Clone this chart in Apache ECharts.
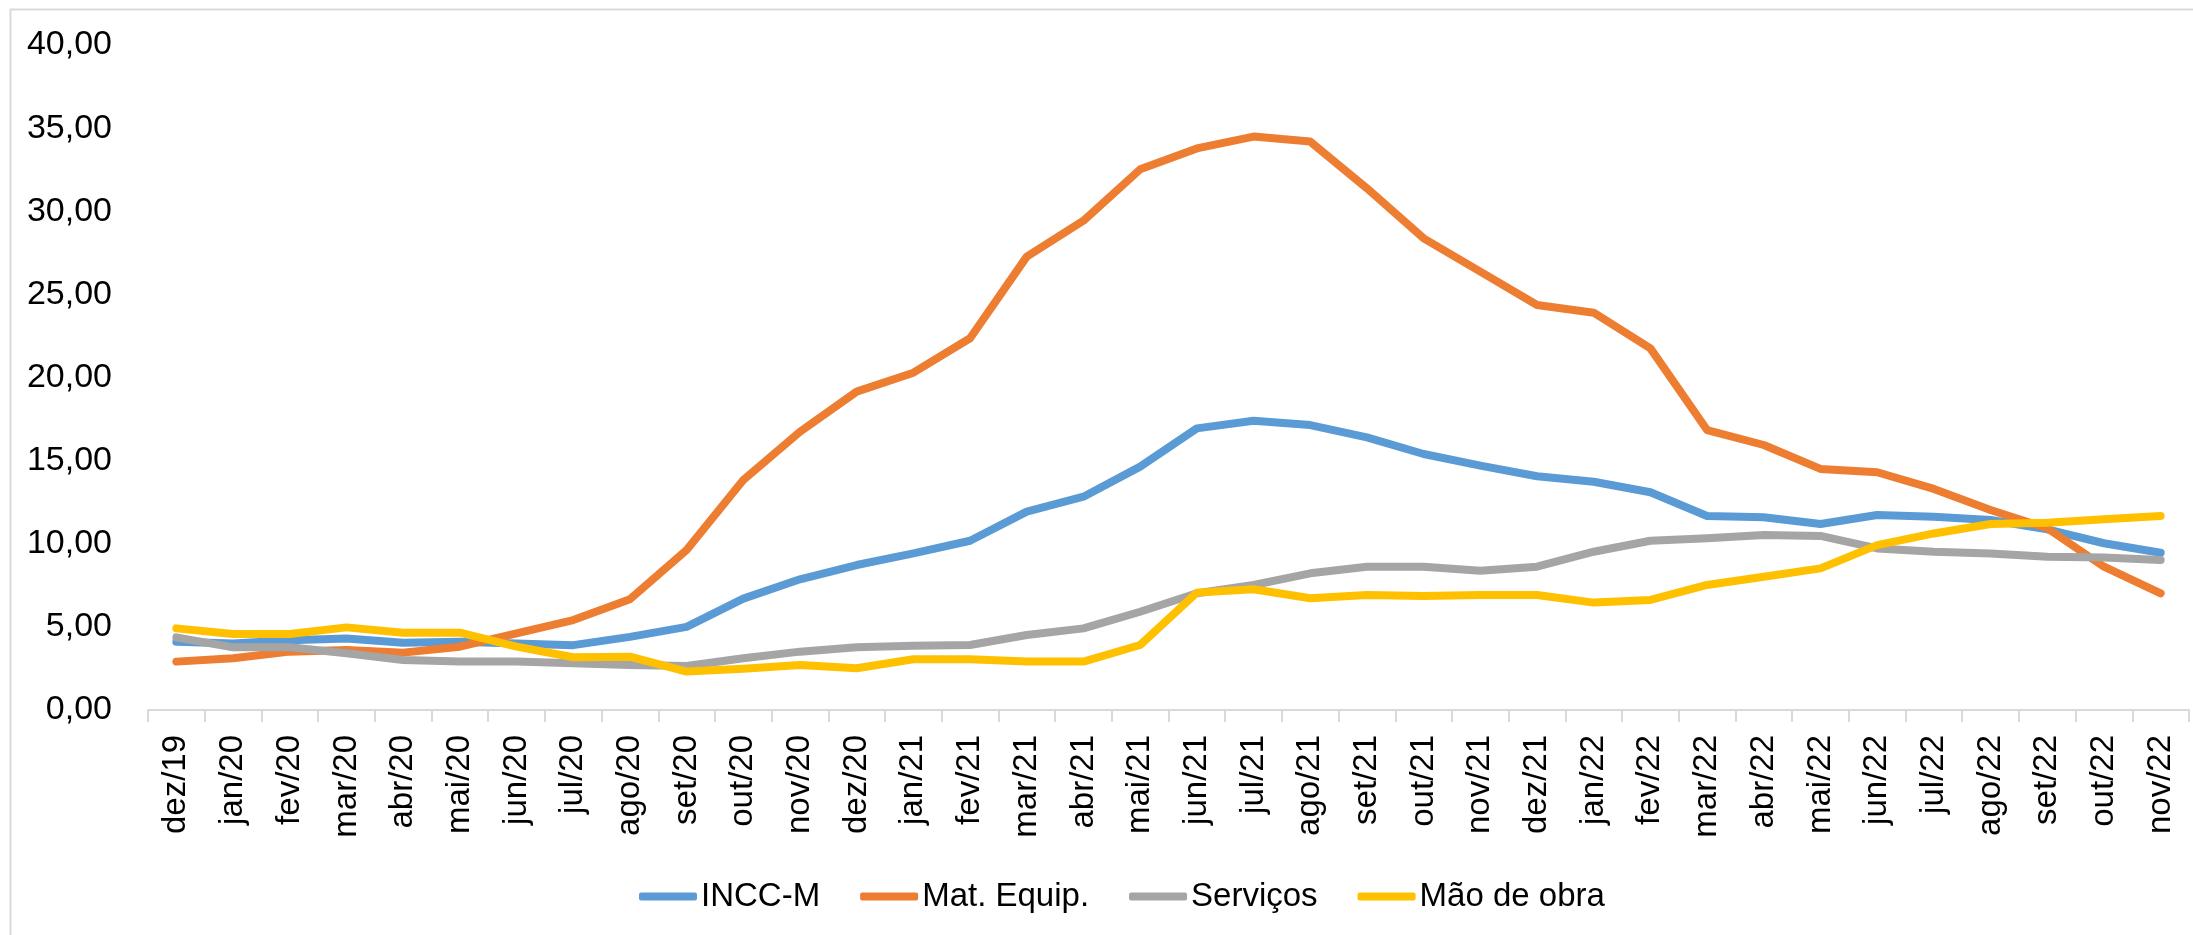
<!DOCTYPE html>
<html>
<head>
<meta charset="utf-8">
<script src="https://cdn.jsdelivr.net/npm/echarts@6/dist/echarts.min.js"></script>
<style>
  html, body { margin: 0; padding: 0; background: #fff; }
  #main { width: 2193px; height: 935px; }
</style>
</head>
<body>
<div id="main"></div>
<script>
// meses
var meses = ['dez/19', 'jan/20', 'fev/20', 'mar/20', 'abr/20', 'mai/20', 'jun/20', 'jul/20', 'ago/20', 'set/20', 'out/20', 'nov/20',
    'dez/20', 'jan/21', 'fev/21', 'mar/21', 'abr/21', 'mai/21', 'jun/21', 'jul/21', 'ago/21', 'set/21', 'out/21', 'nov/21',
    'dez/21', 'jan/22', 'fev/22', 'mar/22', 'abr/22', 'mai/22', 'jun/22', 'jul/22', 'ago/22', 'set/22', 'out/22', 'nov/22'];

var inccM = [4.1, 4.0, 4.2, 4.3, 4.05, 4.1, 4.0, 3.9, 4.4, 5.0, 6.7, 7.86, 8.72, 9.42, 10.18, 11.93, 12.83, 14.64,
    16.94, 17.40, 17.14, 16.40, 15.40, 14.7, 14.06, 13.73, 13.1, 11.67, 11.59, 11.19, 11.73, 11.63, 11.43, 10.87, 10.03, 9.46];

var matEquip = [2.91, 3.11, 3.51, 3.61, 3.45, 3.81, 4.61, 5.41, 6.66, 9.62, 13.83, 16.74, 19.15, 20.29, 22.36, 27.27, 29.43, 32.52,
    33.78, 34.49, 34.19, 31.38, 28.37, 26.37, 24.36, 23.90, 21.75, 16.84, 15.94, 14.5, 14.3, 13.3, 12.03, 10.93, 8.62, 7.02];

var servicos = [4.37, 3.77, 3.77, 3.41, 3.01, 2.91, 2.91, 2.81, 2.71, 2.65, 3.11, 3.51, 3.77, 3.87, 3.91, 4.51, 4.91, 5.91,
    7.02, 7.52, 8.22, 8.62, 8.62, 8.38, 8.62, 9.52, 10.18, 10.33, 10.53, 10.47, 9.72, 9.52, 9.42, 9.22, 9.18, 9.02];

var maoDeObra = [4.91, 4.57, 4.57, 4.97, 4.65, 4.65, 3.81, 3.17, 3.21, 2.31, 2.48, 2.71, 2.51, 3.05, 3.05, 2.91, 2.91, 3.91,
    7.06, 7.26, 6.72, 6.92, 6.86, 6.92, 6.92, 6.46, 6.62, 7.52, 8.02, 8.52, 9.92, 10.62, 11.19, 11.27, 11.47, 11.67];

var nomes = ['INCC-M', 'Mat. Equip.', 'Serviços', 'Mão de obra'];
var cores = ['#5B9BD5', '#ED7D31', '#A5A5A5', '#FFC000'];
var fonte = '"Liberation Sans", Arial, sans-serif';

function linha(nome, dados, cor) {
    return {
        name: nome,
        type: 'line',
        data: dados,
        symbol: 'none',
        smooth: false,
        lineStyle: { width: 8, color: cor, cap: 'round', join: 'round' },
        itemStyle: { color: cor }
    };
}

var myChart = echarts.init(document.getElementById('main'));
myChart.setOption({
    animation: false,
    color: cores,
    graphic: [{
        type: 'rect',
        shape: { x: 10.5, y: 9.5, width: 2300, height: 1000 },
        style: { fill: 'none', stroke: '#D9D9D9', lineWidth: 2 },
        silent: true
    }],
    grid: { left: 148, right: 4, top: 45, bottom: 225 },
    legend: {
        top: 875,
        left: 634,
        itemWidth: 58,
        itemHeight: 8,
        itemGap: 40,
        icon: 'roundRect',
        textStyle: { fontFamily: fonte, fontSize: 33, color: '#000', padding: [0, 0, 0, -1] },
        data: nomes
    },
    xAxis: {
        type: 'category',
        data: meses,
        boundaryGap: true,
        axisLine: { lineStyle: { color: '#D9D9D9', width: 2 } },
        axisTick: { show: true, length: 12, lineStyle: { color: '#D9D9D9', width: 2 } },
        axisLabel: { rotate: 90, interval: 0, margin: 25, fontFamily: fonte, fontSize: 33, color: '#000' }
    },
    yAxis: {
        type: 'value',
        min: 0,
        max: 40,
        interval: 5,
        splitLine: { show: false },
        axisLine: { show: false },
        axisTick: { show: false },
        axisLabel: {
            margin: 36,
            fontFamily: fonte,
            fontSize: 34,
            color: '#000',
            formatter: function (v) { return v.toFixed(2).replace('.', ','); }
        }
    },
    series: [
        linha(nomes[0], inccM, cores[0]),
        linha(nomes[1], matEquip, cores[1]),
        linha(nomes[2], servicos, cores[2]),
        linha(nomes[3], maoDeObra, cores[3])
    ]
});
</script>
</body>
</html>
